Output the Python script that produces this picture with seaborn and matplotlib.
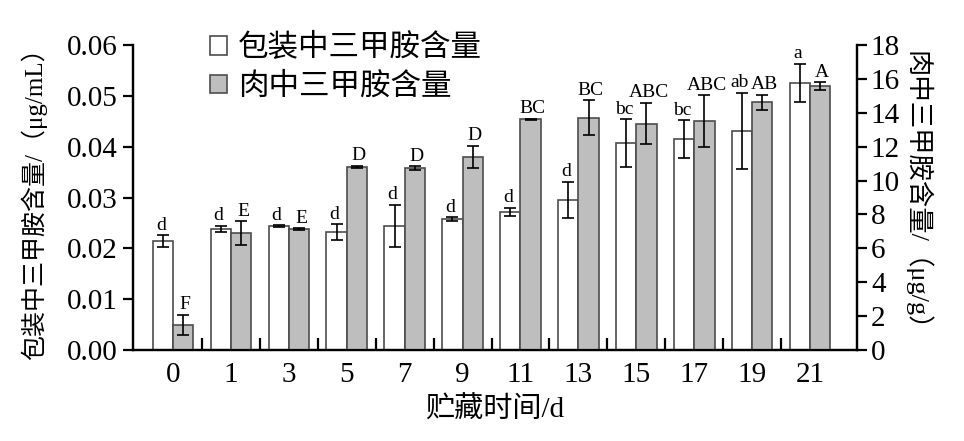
import numpy as np
import pandas as pd
import matplotlib
matplotlib.use("Agg")
import matplotlib.pyplot as plt
import seaborn as sns
from matplotlib.patches import Patch
from matplotlib.ticker import FixedLocator

# dados
dias = ["0", "1", "3", "5", "7", "9", "11", "13", "15", "17", "19", "21"]
series = ["包装中三甲胺含量", "肉中三甲胺含量"]

emb = [0.0214, 0.0238, 0.0243, 0.0232, 0.0244, 0.0257, 0.0272, 0.0295, 0.0407, 0.0415, 0.0431, 0.0525]
emb_err = [0.0012, 0.00065, 0.0002, 0.0015, 0.0042, 0.0004, 0.0008, 0.0036, 0.0047, 0.0037, 0.0075, 0.0038]
emb_let = ["d", "d", "d", "d", "d", "d", "d", "d", "bc", "bc", "ab", "a"]

carne = [1.48, 6.89, 7.14, 10.82, 10.72, 11.41, 13.62, 13.70, 13.36, 13.50, 14.62, 15.58]
carne_err = [0.61, 0.72, 0.05, 0.05, 0.12, 0.65, 0.03, 1.03, 1.23, 1.52, 0.45, 0.24]
carne_let = ["F", "E", "E", "D", "D", "D", "BC", "BC", "ABC", "ABC", "AB", "A"]

cores = {series[0]: "#ffffff", series[1]: "#bebebe"}
borda = "#4d4d4d"

fam = ["Liberation Serif", "Noto Sans CJK SC"]
plt.rcParams["font.family"] = fam
plt.rcParams["axes.unicode_minus"] = False

df_emb = pd.DataFrame({"dia": dias, "valor": emb, "serie": series[0]})
df_carne = pd.DataFrame({"dia": dias, "valor": carne, "serie": series[1]})

fig = plt.figure(figsize=(9.64, 4.41), dpi=100)
ax = fig.add_axes([133 / 964, 1 - 350 / 441, 724 / 964, 305 / 441])
ax2 = ax.twinx()

sns.barplot(data=df_emb, x="dia", y="valor", hue="serie", hue_order=series, order=dias,
            palette=cores, edgecolor=borda, linewidth=1.2, width=0.70, dodge=True,
            errorbar=None, legend=False, ax=ax)
sns.barplot(data=df_carne, x="dia", y="valor", hue="serie", hue_order=series, order=dias,
            palette=cores, edgecolor=borda, linewidth=1.2, width=0.70, dodge=True,
            errorbar=None, legend=False, ax=ax2)

# barras de erro e letras (dx: pequeno deslocamento horizontal das letras, em pontos)
def erros(eixo, valores, errs, letras, dx):
    barras = [p for p in eixo.patches if p.get_height() > 0]
    barras = sorted(barras, key=lambda p: p.get_x())
    for p, v, e, l in zip(barras, valores, errs, letras):
        xc = p.get_x() + p.get_width() / 2
        eixo.errorbar(xc, v, yerr=e, fmt="none", ecolor="black", elinewidth=1.2,
                      capsize=4, capthick=1.2, zorder=5)
        eixo.annotate(l, (xc, v + e), xytext=(dx, 1), textcoords="offset points",
                      ha="center", va="bottom", fontsize=14, family=fam)

erros(ax, emb, emb_err, emb_let, -1.5)
erros(ax2, carne, carne_err, carne_let, 1.5)

ax.set_xlim(-0.69, 11.81)
ax.set_ylim(0, 0.06)
ax2.set_ylim(0, 18)
ax.set_yticks(np.arange(0, 0.061, 0.01))
ax.set_yticklabels([f"{v:.2f}" for v in np.arange(0, 0.061, 0.01)])
ax2.set_yticks(np.arange(0, 19, 2))

for eixo in [ax, ax2]:
    eixo.spines["top"].set_visible(False)
    for s in ["left", "right", "bottom"]:
        eixo.spines[s].set_linewidth(1.6)
        eixo.spines[s].set_color("black")

ax.tick_params(axis="y", direction="out", length=7, width=1.6, labelsize=21, pad=4)
ax2.tick_params(axis="y", direction="out", length=7, width=1.6, labelsize=21, pad=3)
ax.tick_params(axis="x", which="major", length=0, labelsize=21, pad=9)
ax.xaxis.set_minor_locator(FixedLocator(np.arange(0.5, 11, 1)))
ax.tick_params(axis="x", which="minor", direction="in", length=9, width=1.6)

ax.set_xlabel("贮藏时间/d", fontsize=21, labelpad=6)
ax.set_ylabel("包装中三甲胺含量/（μg/mL）", fontsize=18, labelpad=14)
ax2.set_ylabel("肉中三甲胺含量/（μg/g）", fontsize=19, rotation=270, labelpad=22)

handles = [Patch(facecolor=cores[s], edgecolor=borda, linewidth=1.2) for s in series]
ax.legend(handles, series, loc="upper left", bbox_to_anchor=(0.107, 1.035), frameon=False,
          fontsize=22, handlelength=0.55, handleheight=0.55, handletextpad=0.35,
          labelspacing=0.3, borderaxespad=0, borderpad=0)

fig.savefig("out.png", dpi=100)
